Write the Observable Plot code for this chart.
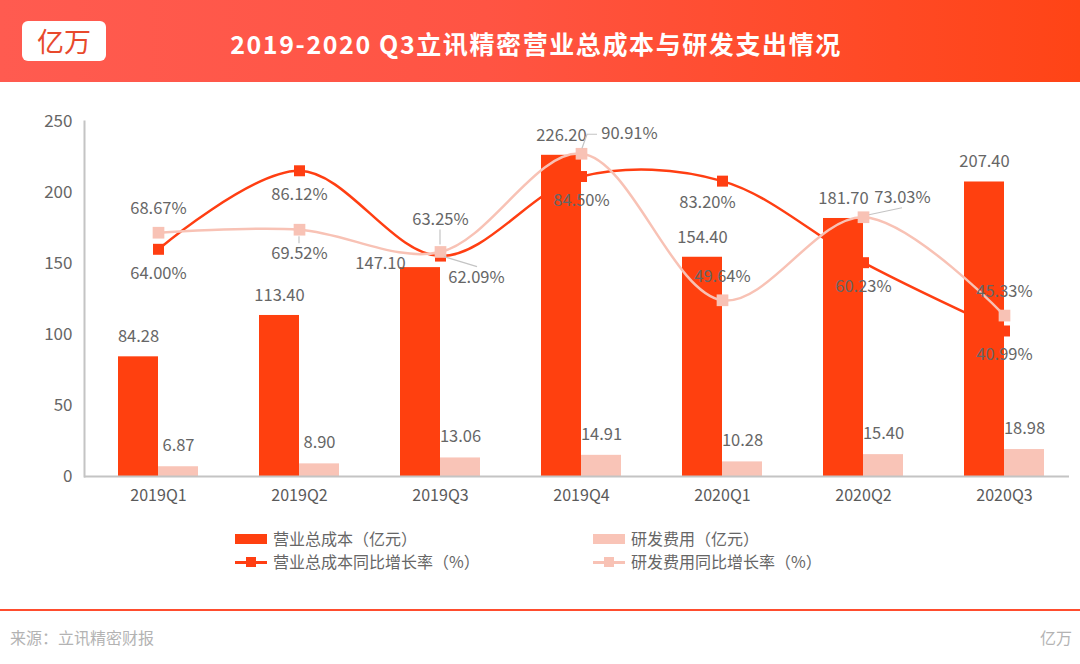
<!DOCTYPE html>
<html>
<head>
<meta charset="utf-8">
<script src="https://cdn.jsdelivr.net/npm/d3@7"></script>
<script src="https://cdn.jsdelivr.net/npm/@observablehq/plot@0.6"></script>
<style>
  body { margin: 0; background: #fff; }
  #wrap { position: relative; width: 1080px; height: 664px; overflow: hidden; background: #fff;
          font-family: "Noto Sans CJK SC", "Noto Sans", sans-serif; }
  #header { position: absolute; left: 0; top: 0; width: 1080px; height: 82px;
            background: linear-gradient(90deg, #FF5B50 0%, #FF5443 45%, #FF4416 100%); }
  #logo { position: absolute; left: 22px; top: 21px; width: 84px; height: 40px; background: #fff;
          border-radius: 6px; color: #E8492C; font-size: 27px; line-height: 40px; text-align: center; }
  #title { position: absolute; left: 0; top: 0; width: 1072px; height: 84px; line-height: 86px;
           text-align: center; color: #fff; font-size: 25px; font-weight: 700; letter-spacing: 1.6px; }
  #chart { position: absolute; left: 0; top: 100px; }
  .leg { position: absolute; font-size: 16px; color: #666; line-height: 20px; white-space: nowrap; }
  .sw { position: absolute; }
  #rule { position: absolute; left: 0; top: 609px; width: 1080px; height: 2px; background: #FF4D2E; }
  #source { position: absolute; left: 10px; top: 626px; font-size: 16px; color: #b3b3b3; line-height: 22px; }
  #brand { position: absolute; right: 8px; top: 626px; font-size: 16px; color: #b3b3b3; line-height: 22px; }
</style>
</head>
<body>
<div id="wrap">
  <div id="header"></div>
  <div id="logo">亿万</div>
  <div id="title">2019-2020 Q3立讯精密营业总成本与研发支出情况</div>
  <div id="chart"></div>
  <div id="legend"></div>
  <div id="rule"></div>
  <div id="source">来源：立讯精密财报</div>
  <div id="brand">亿万</div>
</div>
<script>
// ---------------- data ----------------
const quarters   = ["2019Q1", "2019Q2", "2019Q3", "2019Q4", "2020Q1", "2020Q2", "2020Q3"];
const totalCost  = [84.28, 113.40, 147.10, 226.20, 154.40, 181.70, 207.40];   // 营业总成本（亿元）
const rdExpense  = [6.87, 8.90, 13.06, 14.91, 10.28, 15.40, 18.98];           // 研发费用（亿元）
const costGrowth = [64.00, 86.12, 62.09, 84.50, 83.20, 60.23, 40.99];         // 营业总成本同比增长率（%）
const rdGrowth   = [68.67, 69.52, 63.25, 90.91, 49.64, 73.03, 45.33];         // 研发费用同比增长率（%）
const yTicks     = [0, 50, 100, 150, 200, 250];
const seriesNames = ["营业总成本（亿元）", "研发费用（亿元）", "营业总成本同比增长率（%）", "研发费用同比增长率（%）"];

// ---------------- styles / layout ----------------
const DARK = "#FF400F", PINK = "#F9C4B7", ORANGE_LINE = "#FF3E12", PINK_LINE = "#F8C2B5";
const LABEL = "#666666", LEADER = "#c4c4c4";
const PCT = 2.5; // secondary (hidden) axis 0–100% drawn onto the 0–250 primary axis

const rows = quarters.map((q, i) => ({q, cost: totalCost[i], rd: rdExpense[i], cg: costGrowth[i], rg: rdGrowth[i]}));

// label offsets in pixels (layout only)
const costLabelOff = {"2019Q3": [-60, -4]};
const cgLabelOff = {"2019Q3": [36, 22], "2020Q1": [-15, 22]};
const rgLabelOff = {"2019Q2": [0, 24], "2019Q3": [0, -32], "2019Q4": [48, -20], "2020Q2": [39, -20]};
const leaders = [
  {q: "2019Q2", s: "rg", pts: [[0, 7], [0, 14]]},
  {q: "2019Q3", s: "rg", pts: [[0, -7], [0, -22]]},
  {q: "2019Q4", s: "rg", pts: [[1, -5], [6, -19], [16, -19]]},
  {q: "2020Q2", s: "rg", pts: [[6, -2], [39, -9]]},
  {q: "2019Q3", s: "cg", pts: [[4, 1], [37, 11]]}
];

const fmt2 = d3.format(".2f");
const textMarks = [];
rows.forEach(r => {
  const co = costLabelOff[r.q] || [-20, -20];
  textMarks.push(Plot.text([r], {x: "q", y: "cost", text: d => fmt2(d.cost), dx: co[0], dy: co[1], fill: LABEL, fontSize: 16.5}));
  textMarks.push(Plot.text([r], {x: "q", y: "rd", text: d => fmt2(d.rd), dx: 20, dy: -21, fill: LABEL, fontSize: 16.5}));
  const go = cgLabelOff[r.q] || [0, 24];
  textMarks.push(Plot.text([r], {x: "q", y: d => d.cg * PCT, text: d => fmt2(d.cg) + "%", dx: go[0], dy: go[1], fill: LABEL, fontSize: 16.5}));
  const ro = rgLabelOff[r.q] || [0, -24];
  textMarks.push(Plot.text([r], {x: "q", y: d => d.rg * PCT, text: d => fmt2(d.rg) + "%", dx: ro[0], dy: ro[1], fill: LABEL, fontSize: 16.5}));
});

const chart = Plot.plot({
  width: 1080,
  height: 410,
  marginTop: 21,
  marginBottom: 34,
  marginLeft: 84,
  marginRight: 3,
  style: {fontFamily: '"Noto Sans CJK SC", "Noto Sans", sans-serif', fontSize: "16px", color: "#666", background: "transparent"},
  x: {domain: quarters, paddingInner: 0.718, paddingOuter: 0.359, label: null},
  y: {domain: [0, 250], label: null},
  marks: [
    Plot.axisY({ticks: yTicks, tickSize: 0, tickPadding: 12, fontSize: 17, label: null, color: "#666"}),
    Plot.axisX({tickSize: 0, tickPadding: 13, fontSize: 16, label: null, color: "#5a5a5a"}),
    Plot.frame({anchor: "left", stroke: "#c4c4c4", strokeWidth: 2}),
    // cost growth line sits behind the bars
    Plot.line(rows, {x: "q", y: d => d.cg * PCT, curve: "catmull-rom", stroke: ORANGE_LINE, strokeWidth: 2.5}),
    Plot.dot(rows, {x: "q", y: d => d.cg * PCT, symbol: "square", r: 6.2, fill: ORANGE_LINE, stroke: "none"}),
    Plot.barY(rows, {x: "q", y: "cost", dx: -20, fill: DARK}),
    Plot.barY(rows, {x: "q", y: "rd", dx: 20, fill: PINK}),
    Plot.ruleY([0], {stroke: "#c4c4c4", strokeWidth: 2, insetRight: 8}),
    Plot.line(rows, {x: "q", y: d => d.rg * PCT, curve: "catmull-rom", stroke: PINK_LINE, strokeWidth: 2.5}),
    Plot.dot(rows, {x: "q", y: d => d.rg * PCT, symbol: "square", r: 6.6, fill: PINK_LINE, stroke: "none"}),
    ...textMarks
  ]
});
document.getElementById("chart").appendChild(chart);

// leader lines positioned through the plot's own scales
const sx = chart.scale("x"), sy = chart.scale("y");
const svg = d3.select(chart);
const lg = svg.append("g").attr("fill", "none").attr("stroke", LEADER).attr("stroke-width", 1.2);
leaders.forEach(L => {
  const r = rows.find(d => d.q === L.q);
  const cx = sx.apply(L.q) + sx.bandwidth / 2;
  const cy = sy.apply(r[L.s] * PCT);
  lg.append("path").attr("d", d3.line()(L.pts.map(p => [cx + p[0], cy + p[1]])));
});

// legend (HTML, below the SVG)
const legend = document.getElementById("legend");
const items = [
  {x: 235, y: 539, name: seriesNames[0], kind: "bar", color: DARK},
  {x: 593, y: 539, name: seriesNames[1], kind: "bar", color: PINK},
  {x: 235, y: 562, name: seriesNames[2], kind: "line", color: ORANGE_LINE},
  {x: 593, y: 562, name: seriesNames[3], kind: "line", color: PINK_LINE}
];
items.forEach(it => {
  if (it.kind === "bar") {
    const s = document.createElement("div");
    s.className = "sw";
    Object.assign(s.style, {left: it.x + "px", top: (it.y - 5) + "px", width: "32px", height: "10px", background: it.color});
    legend.appendChild(s);
  } else {
    const l = document.createElement("div");
    l.className = "sw";
    Object.assign(l.style, {left: it.x + "px", top: (it.y - 1) + "px", width: "32px", height: "2.5px", background: it.color});
    legend.appendChild(l);
    const m = document.createElement("div");
    m.className = "sw";
    Object.assign(m.style, {left: (it.x + 11) + "px", top: (it.y - 5) + "px", width: "10px", height: "10px", background: it.color});
    legend.appendChild(m);
  }
  const t = document.createElement("div");
  t.className = "leg";
  t.style.left = (it.x + 38) + "px";
  t.style.top = (it.y - 11) + "px";
  t.textContent = it.name;
  legend.appendChild(t);
});
</script>
</body>
</html>
